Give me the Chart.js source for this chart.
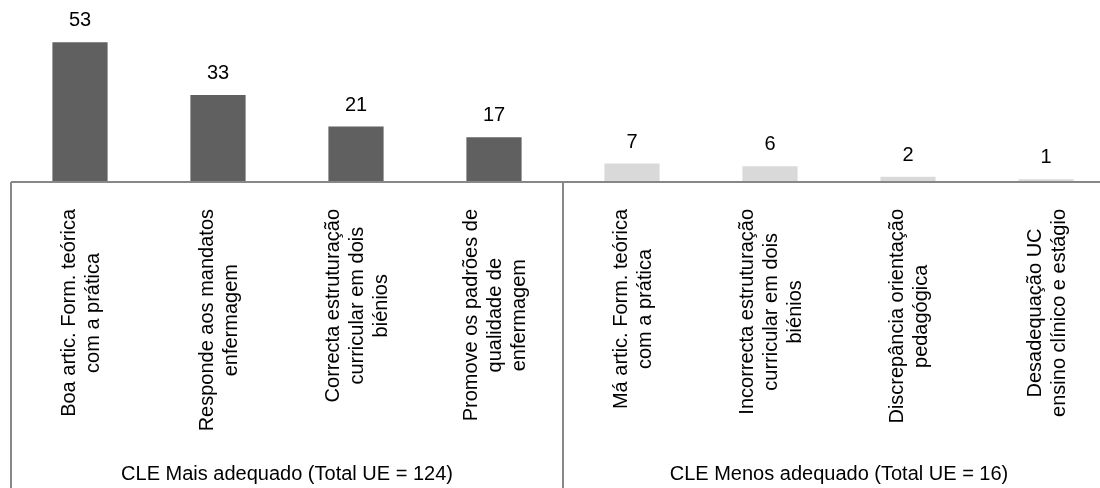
<!DOCTYPE html>
<html>
<head>
<meta charset="utf-8">
<script src="https://cdn.jsdelivr.net/npm/chart.js@4/dist/chart.umd.min.js"></script>
<style>
  html, body { margin: 0; padding: 0; background: #fff; overflow: hidden; }
  #wrap { width: 1115px; height: 488px; }
</style>
</head>
<body>
<div id="wrap"><canvas id="cleChart" width="1115" height="488"></canvas></div>
<script>
var categories = [
  ["Boa artic. Form. teórica", "com a prática"],
  ["Responde aos mandatos", "enfermagem"],
  ["Correcta estruturação", "curricular em dois", "biénios"],
  ["Promove os padrões de", "qualidade de", "enfermagem"],
  ["Má artic. Form. teórica", "com a prática"],
  ["Incorrecta estruturação", "curricular em dois", "biénios"],
  ["Discrepância orientação", "pedagógica"],
  ["Desadequação UC", "ensino clínico e estágio"]
];
var counts = [53, 33, 21, 17, 7, 6, 2, 1];
var groupLabels = ["CLE Mais adequado (Total UE = 124)", "CLE Menos adequado (Total UE = 16)"];
var groupSizes = [4, 4];
var groupColors = ["#606060", "#d9d9d9"];

var FONT = "20px 'Liberation Sans', Arial, sans-serif";
var LINE_COLOR = "#878787";

// bar colour follows the group the category belongs to
var barColors = [];
groupSizes.forEach(function (n, g) {
  for (var i = 0; i < n; i++) barColors.push(groupColors[g]);
});

// value labels, rotated category labels, axis and group boxes
var annotate = {
  id: "annotate",
  afterDatasetsDraw: function (chart) {
    var ctx = chart.ctx;
    var xs = chart.scales.x;
    var area = chart.chartArea;
    var meta = chart.getDatasetMeta(0);

    ctx.save();
    ctx.font = FONT;
    ctx.fillStyle = "#000";

    // numbers above the bars
    ctx.textAlign = "center";
    ctx.textBaseline = "alphabetic";
    meta.data.forEach(function (bar, i) {
      ctx.fillText(String(counts[i]), bar.x, bar.y - 16);
    });

    // category text, vertical, lines centred on each other
    var top = area.bottom + 27;
    var lineGap = 24;
    categories.forEach(function (lines, i) {
      var cx = xs.getPixelForValue(i) + 1.5;
      var w = 0;
      lines.forEach(function (l) { w = Math.max(w, ctx.measureText(l).width); });
      ctx.save();
      ctx.translate(cx, top);
      ctx.rotate(-Math.PI / 2);
      ctx.textAlign = "center";
      ctx.textBaseline = "middle";
      lines.forEach(function (l, k) {
        ctx.fillText(l, -w / 2, (k - (lines.length - 1) / 2) * lineGap);
      });
      ctx.restore();
    });

    // axis line
    ctx.strokeStyle = LINE_COLOR;
    ctx.lineWidth = 2;
    ctx.beginPath();
    ctx.moveTo(area.left, area.bottom);
    ctx.lineTo(area.right, area.bottom);
    ctx.stroke();

    // group separators and group captions
    var start = 0;
    groupSizes.forEach(function (n, g) {
      var x0 = xs.getPixelForValue(start - 0.5);
      var x1 = xs.getPixelForValue(start + n - 0.5);
      ctx.beginPath();
      ctx.moveTo(x0, area.bottom);
      ctx.lineTo(x0, chart.height);
      ctx.moveTo(x1, area.bottom);
      ctx.lineTo(x1, chart.height);
      ctx.stroke();
      ctx.textAlign = "center";
      ctx.textBaseline = "alphabetic";
      ctx.fillText(groupLabels[g], (x0 + x1) / 2, 480);
      start += n;
    });
    ctx.restore();
  }
};

new Chart(document.getElementById("cleChart"), {
  type: "bar",
  data: {
    labels: categories,
    datasets: [{
      data: counts,
      backgroundColor: barColors,
      borderWidth: 0,
      barPercentage: 0.4,
      categoryPercentage: 1
    }]
  },
  options: {
    responsive: false,
    animation: false,
    layout: { padding: { left: 11, right: 0, top: 0, bottom: 0 } },
    plugins: {
      legend: { display: false },
      tooltip: { enabled: false }
    },
    scales: {
      x: {
        grid: { display: false },
        border: { display: false },
        ticks: { display: false },
        afterFit: function (scale) { scale.height = 306; }
      },
      y: {
        display: false,
        min: 0,
        max: 69
      }
    }
  },
  plugins: [annotate]
});
</script>
</body>
</html>
